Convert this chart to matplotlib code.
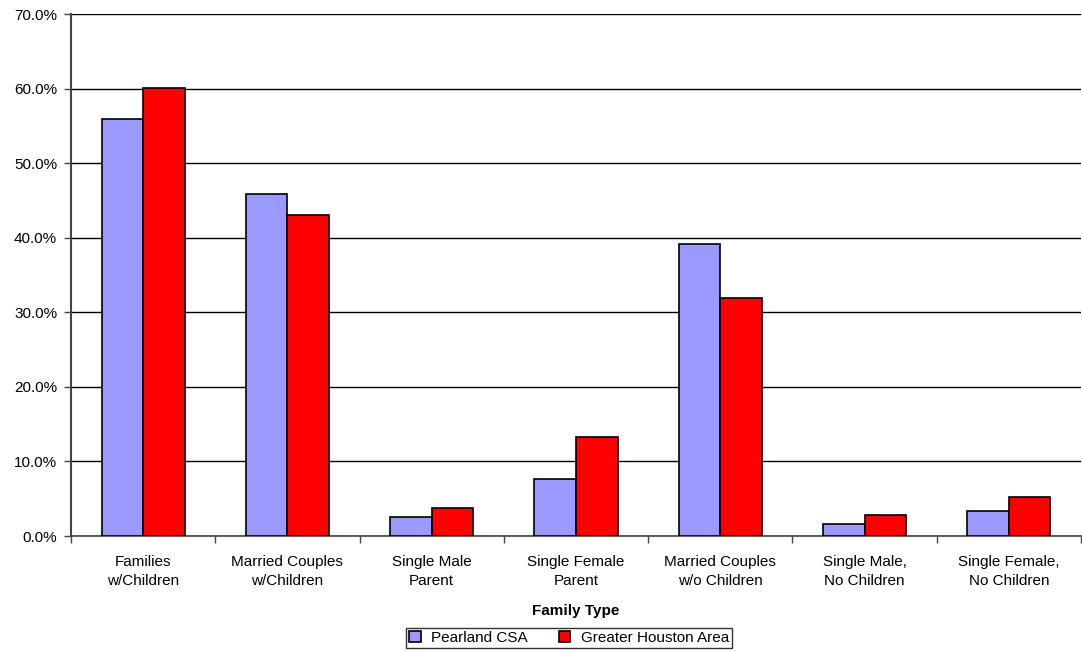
import numpy as np
import matplotlib
matplotlib.use("Agg")
import matplotlib.pyplot as plt
from matplotlib.ticker import PercentFormatter

plt.rcParams['font.family'] = ['Liberation Sans', 'DejaVu Sans']

categories = ["Families\nw/Children", "Married Couples\nw/Children", "Single Male\nParent",
              "Single Female\nParent", "Married Couples\nw/o Children",
              "Single Male,\nNo Children", "Single Female,\nNo Children"]
pearland = [55.9, 45.8, 2.5, 7.6, 39.2, 1.6, 3.4]
houston = [60.1, 43.0, 3.8, 13.3, 31.9, 2.8, 5.2]
series_names = ["Pearland CSA", "Greater Houston Area"]

fig = plt.figure(figsize=(10.82, 6.52), dpi=100)
ax = fig.add_axes([71 / 1082, 116 / 652, 1010 / 1082, 522 / 652])

x = np.arange(len(categories))
w = 0.288
ax.bar(x - w / 2, pearland, w, color="#9999ff", edgecolor="black", linewidth=1.2,
       label=series_names[0], zorder=3)
ax.bar(x + w / 2, houston, w, color="#ff0000", edgecolor="black", linewidth=1.2,
       label=series_names[1], zorder=3)

ax.set_xlim(-0.5, len(categories) - 0.5)
ax.set_ylim(0, 70)
ax.set_yticks(np.arange(0, 71, 10))
ax.yaxis.set_major_formatter(PercentFormatter(decimals=1))
ax.grid(axis="y", color="black", linewidth=1, zorder=0)

# category labels centred, tick marks on category boundaries
ax.set_xticks(x)
ax.set_xticklabels(categories, fontsize=11, linespacing=1.45)
ax.tick_params(axis="x", length=0, pad=14)
ax.set_xticks(np.arange(-0.5, len(categories) - 0.4, 1), minor=True)
ax.tick_params(axis="x", which="minor", length=5, width=1, color="#444444")
ax.tick_params(axis="y", length=5, width=1, color="#444444", labelsize=11, pad=5)

for s in ["top", "right"]:
    ax.spines[s].set_visible(False)
ax.spines["left"].set_color("#444444")
ax.spines["left"].set_linewidth(1.5)
ax.spines["bottom"].set_color("#444444")
ax.spines["bottom"].set_linewidth(1.2)

ax.set_xlabel("Family Type", fontsize=11, fontweight="bold", labelpad=11)

leg = fig.legend(loc="center", bbox_to_anchor=(0.526, 0.0215), ncol=2, fontsize=11,
                 frameon=True, fancybox=False, edgecolor="black", handlelength=0.75,
                 handleheight=0.75, borderpad=0.2, columnspacing=2.0, handletextpad=0.7)
leg.get_frame().set_linewidth(1)

fig.savefig("out.png", dpi=100)
